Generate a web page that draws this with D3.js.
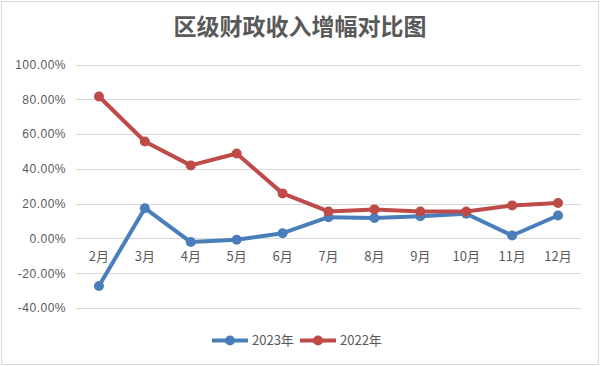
<!DOCTYPE html>
<html>
<head>
<meta charset="utf-8">
<script src="https://cdn.jsdelivr.net/npm/d3@7"></script>
<style>
    body { margin: 0; background: #fff; }
    svg { display: block; }
</style>
</head>
<body>
<svg id="chart"></svg>
<script>
    const months = ['2月', '3月', '4月', '5月', '6月', '7月', '8月', '9月', '10月', '11月', '12月']
    const values2023 = [-27.3, 17.4, -2.1, -0.8, 3.0, 12.2, 11.7, 12.8, 14.2, 1.7, 13.2]
    const values2022 = [81.6, 55.7, 42.0, 48.8, 25.9, 15.5, 16.7, 15.5, 15.5, 19.0, 20.4]
    const yTicks = [-40, -20, 0, 20, 40, 60, 80, 100]

    const series = [
        { name: '2023年', values: values2023, color: '#4a7ebb' },
        { name: '2022年', values: values2022, color: '#be4b48' },
    ]

    const width = 600
    const height = 366
    const margin = { top: 64.5, right: 19, bottom: 58, left: 76 }

    const svg = d3.select('#chart')
        .attr('width', width)
        .attr('height', height)
        .style('font-family', '"Noto Sans CJK SC", "Noto Sans", sans-serif')

    // outer border
    svg.append('rect')
        .attr('x', 1.5)
        .attr('y', 1.5)
        .attr('width', width - 3)
        .attr('height', height - 3)
        .attr('fill', '#fff')
        .attr('stroke', '#d9d9d9')
        .attr('stroke-width', 1)

    svg.append('text')
        .attr('x', 300)
        .attr('y', 35)
        .attr('text-anchor', 'middle')
        .style('font-size', '23px')
        .style('font-family', '"Noto Sans CJK SC", serif')
        .style('font-weight', 'bold')
        .style('fill', '#595959')
        .text('区级财政收入增幅对比图')

    const xScale = d3.scaleBand()
        .domain(months)
        .range([margin.left, width - margin.right])

    const yScale = d3.scaleLinear()
        .domain([-40, 100])
        .range([308, margin.top])

    // gridlines
    svg.append('g')
        .selectAll('line')
        .data(yTicks)
        .enter()
        .append('line')
        .attr('x1', margin.left)
        .attr('x2', width - margin.right)
        .attr('y1', d => Math.round(yScale(d)) + 0.5)
        .attr('y2', d => Math.round(yScale(d)) + 0.5)
        .attr('stroke', '#d9d9d9')
        .attr('stroke-width', 1)

    // y axis
    svg.append('g')
        .attr('transform', 'translate(' + 66 + ',0)')
        .style('font-size', 12)
        .call(d3.axisLeft(yScale).tickValues(yTicks).tickSize(0).tickFormat(d => d.toFixed(2) + '%'))
        .call(g => g.select('.domain').remove())
        .call(g => g.selectAll('text')
            .attr('x', 0)
            .style('fill', '#595959')
            .style('font-family', '"Liberation Sans", "Noto Sans", sans-serif')
            .style('letter-spacing', '0.5px'))

    // x axis labels sit just below the zero line
    svg.append('g')
        .attr('transform', 'translate(0,' + (yScale(0) + 10) + ')')
        .style('font-size', 13)
        .call(d3.axisBottom(xScale).tickSize(0))
        .call(g => g.select('.domain').remove())
        .call(g => g.selectAll('text')
            .style('fill', '#595959')
            .style('font-family', '"Noto Sans CJK SC", sans-serif'))

    const line = d3.line()
        .x((d, i) => xScale(months[i]) + xScale.bandwidth() / 2)
        .y(d => yScale(d))

    series.forEach(s => {
        svg.append('path')
            .datum(s.values)
            .attr('fill', 'none')
            .attr('stroke', s.color)
            .attr('stroke-width', 4)
            .attr('stroke-linejoin', 'round')
            .attr('d', line)

        svg.append('g')
            .selectAll('circle')
            .data(s.values)
            .enter()
            .append('circle')
            .attr('cx', (d, i) => xScale(months[i]) + xScale.bandwidth() / 2)
            .attr('cy', d => yScale(d))
            .attr('r', 5)
            .attr('fill', s.color)
    })

    // legend
    const legendX = [212, 300]
    const legend = svg.append('g')
        .selectAll('g')
        .data(series)
        .enter()
        .append('g')
        .attr('transform', (d, i) => 'translate(' + legendX[i] + ',' + 340.5 + ')')

    legend.append('line')
        .attr('x1', 0)
        .attr('x2', 36)
        .attr('stroke', d => d.color)
        .attr('stroke-width', 4)

    legend.append('circle')
        .attr('cx', 18)
        .attr('r', 5)
        .attr('fill', d => d.color)

    legend.append('text')
        .attr('x', 40)
        .attr('dy', '0.35em')
        .style('font-size', 13)
        .style('fill', '#595959')
        .text(d => d.name)
</script>
</body>
</html>
